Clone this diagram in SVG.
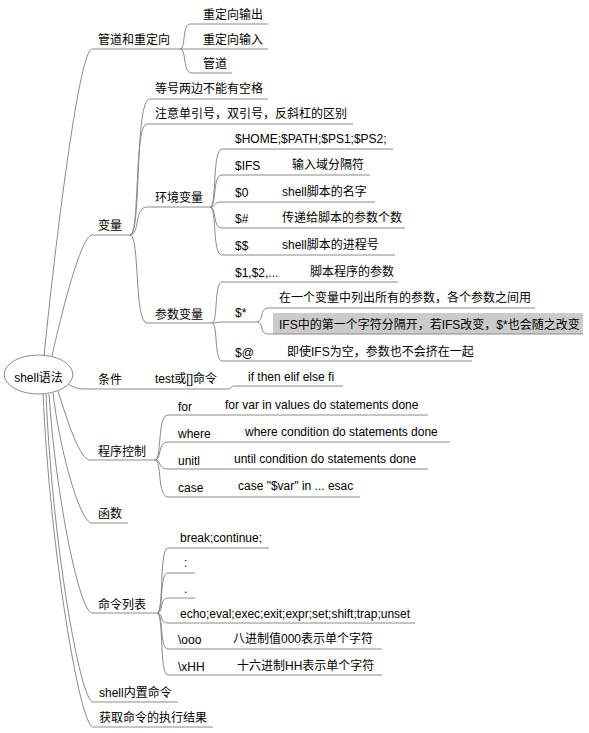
<svg xmlns="http://www.w3.org/2000/svg" width="589" height="733" viewBox="0 0 589 733">
<style>
text{font-family:"Liberation Sans","Noto Sans CJK SC",sans-serif;font-size:12px;fill:#000}
.ln{stroke:#8a8a8a;stroke-width:1;fill:none}
.mid{text-anchor:middle}
</style>
<rect width="589" height="733" fill="#fff"/>
<g id="connectors" class="ln">
<path d="M44,356 C58,218 80,49 92,49"/>
<path d="M52,356 C64,302 82,235 92,235"/>
<path d="M68,384 C76,389 80,389 90,389"/>
<path d="M58,391 C68,423 80,460 90,460"/>
<path d="M53,393 C60,452 80,523 92,523"/>
<path d="M49,394 C56,500 80,613 92,613"/>
<path d="M46,394 C52,540 80,702 93,702"/>
<path d="M43,393 C50,550 80,727 93,727"/>
<path d="M180,49 C186,49 182,24 190,24"/>
<path d="M180,49 L190,49"/>
<path d="M180,49 C187,49 182,73 192,73"/>
<path d="M130,235 C142,235 134,99 150,99"/>
<path d="M130,235 C140,235 134,124 147,124"/>
<path d="M130,235 C140,235 134,207 147,207"/>
<path d="M130,235 C140,235 134,323 147,323"/>
<path d="M210,207 C217,207 212,149 222,149"/>
<path d="M210,207 C217,207 212,175 222,175"/>
<path d="M210,207 C217,207 212,202 222,202"/>
<path d="M210,207 C217,207 212,228 222,228"/>
<path d="M210,207 C217,207 212,255 222,255"/>
<path d="M212,323 C218,323 214,282 222,282"/>
<path d="M212,323 C216,323 218,322 222,322"/>
<path d="M212,323 C218,323 214,361 222,361"/>
<path d="M257,322 C264,322 259,308 268,308"/>
<path d="M257,322 C264,322 259,334 268,334"/>
<path d="M150,389 L150,389"/>
<path d="M155,460 C162,460 157,415 168,415"/>
<path d="M155,460 C162,460 157,442 168,442"/>
<path d="M155,460 C162,460 157,469 168,469"/>
<path d="M155,460 C162,460 157,497 168,497"/>
<path d="M157,613 C164,613 159,548 168,548"/>
<path d="M157,613 C164,613 159,573 168,573"/>
<path d="M157,613 C164,613 159,598 168,598"/>
<path d="M157,613 C164,613 159,623 168,623"/>
<path d="M157,613 C164,613 159,649 168,649"/>
<path d="M157,613 C164,613 159,675 168,675"/>
</g>
<g id="root">
<ellipse cx="38.5" cy="374.5" rx="34.3" ry="19.5" fill="#fff" stroke="#8a8a8a"/>
<text x="38.5" y="382" class="mid">shell语法</text>
</g>
<g id="n-pipe"><text x="98" y="44">管道和重定向</text><path class="ln" d="M92,49 H180"/></g>
<g id="n-out"><text x="203" y="19">重定向输出</text><path class="ln" d="M190,24 H268"/></g>
<g id="n-in"><text x="203" y="44">重定向输入</text><path class="ln" d="M190,49 H268"/></g>
<g id="n-pipe2"><text x="203" y="68">管道</text><path class="ln" d="M192,73 H232"/></g>
<g id="n-var"><text x="98" y="230">变量</text><path class="ln" d="M92,235 H130"/></g>
<g id="n-eq"><text x="155" y="93">等号两边不能有空格</text><path class="ln" d="M150,99 H268"/></g>
<g id="n-quote"><text x="155" y="118">注意单引号，双引号，反斜杠的区别</text><path class="ln" d="M147,124 H353"/></g>
<g id="n-env"><text x="155" y="202">环境变量</text><path class="ln" d="M147,207 H210"/></g>
<g id="n-home"><text x="235" y="143">$HOME;$PATH;$PS1;$PS2;</text><path class="ln" d="M222,149 H393"/></g>
<g id="n-ifs"><text x="235" y="170">$IFS</text><text x="292" y="169">输入域分隔符</text><path class="ln" d="M222,175 H370"/></g>
<g id="n-s0"><text x="235" y="197">$0</text><text x="282" y="196">shell脚本的名字</text><path class="ln" d="M222,202 H375"/></g>
<g id="n-sh"><text x="235" y="223">$#</text><text x="282" y="222">传递给脚本的参数个数</text><path class="ln" d="M222,228 H405"/></g>
<g id="n-ss"><text x="235" y="250">$$</text><text x="282" y="249">shell脚本的进程号</text><path class="ln" d="M222,255 H395"/></g>
<g id="n-param"><text x="155" y="319">参数变量</text><path class="ln" d="M147,323 H212"/></g>
<g id="n-p1"><text x="235" y="277">$1,$2,...</text><text x="310" y="276">脚本程序的参数</text><path class="ln" d="M222,282 H398"/></g>
<g id="n-pstar"><text x="235" y="317">$*</text><path class="ln" d="M222,322 H257"/></g>
<g id="n-pstar1"><text x="279" y="302">在一个变量中列出所有的参数，各个参数之间用</text><path class="ln" d="M268,308 H535"/></g>
<g id="n-pstar2"><rect x="273" y="313" width="310" height="21" fill="#cbcbcb"/><text x="279" y="329">IFS中的第一个字符分隔开，若IFS改变，$*也会随之改变</text><path class="ln" d="M268,334 H583"/></g>
<g id="n-pat"><text x="235" y="357">$@</text><text x="287" y="356">即使IFS为空，参数也不会挤在一起</text><path class="ln" d="M222,361 H472"/></g>
<g id="n-cond"><text x="98" y="384">条件</text><path class="ln" d="M90,389 H150"/></g>
<g id="n-test"><text x="155" y="383">test或[]命令</text><path class="ln" d="M150,389 H228 C231,389 231,386 234,386"/></g>
<g id="n-if"><text x="248" y="381">if then elif else fi</text><path class="ln" d="M234,386 H343"/></g>
<g id="n-flow"><text x="98" y="456">程序控制</text><path class="ln" d="M90,460 H155"/></g>
<g id="n-for"><text x="178" y="411">for</text><text x="225" y="409">for var in values do statements done</text><path class="ln" d="M168,415 H428"/></g>
<g id="n-where"><text x="178" y="438">where</text><text x="245" y="436">where condition do statements done</text><path class="ln" d="M168,442 H450"/></g>
<g id="n-until"><text x="178" y="465">unitl</text><text x="234" y="463">until condition do statements done</text><path class="ln" d="M168,469 H428"/></g>
<g id="n-case"><text x="178" y="492">case</text><text x="238" y="490">case "$var" in ... esac</text><path class="ln" d="M168,497 H360"/></g>
<g id="n-func"><text x="98" y="518">函数</text><path class="ln" d="M92,523 H128"/></g>
<g id="n-cmd"><text x="98" y="609">命令列表</text><path class="ln" d="M92,613 H157"/></g>
<g id="n-break"><text x="180" y="542">break;continue;</text><path class="ln" d="M168,548 H269"/></g>
<g id="n-colon"><text x="184" y="567">:</text><path class="ln" d="M168,573 H195"/></g>
<g id="n-dot"><text x="184" y="593">.</text><path class="ln" d="M168,598 H195"/></g>
<g id="n-echo"><text x="180" y="618">echo;eval;exec;exit;expr;set;shift;trap;unset</text><path class="ln" d="M168,623 H415"/></g>
<g id="n-ooo"><text x="178" y="644">\ooo</text><text x="233" y="643">八进制值000表示单个字符</text><path class="ln" d="M168,649 H382"/></g>
<g id="n-xhh"><text x="178" y="671">\xHH</text><text x="237" y="670">十六进制HH表示单个字符</text><path class="ln" d="M168,675 H382"/></g>
<g id="n-builtin"><text x="99" y="697">shell内置命令</text><path class="ln" d="M93,702 H178"/></g>
<g id="n-result"><text x="99" y="722">获取命令的执行结果</text><path class="ln" d="M93,727 H213"/></g>
</svg>
